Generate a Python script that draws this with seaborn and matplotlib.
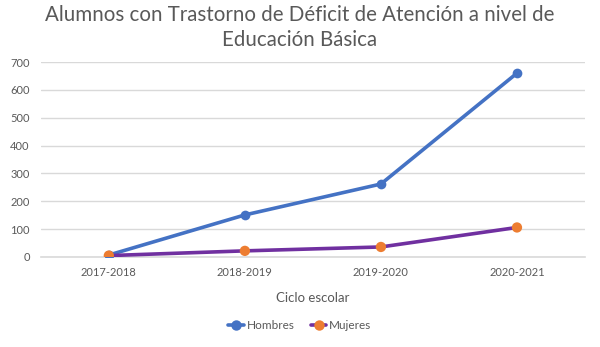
import matplotlib
matplotlib.use("Agg")
import matplotlib.pyplot as plt
from matplotlib.lines import Line2D
import seaborn as sns
import pandas as pd

ciclos = ["2017-2018", "2018-2019", "2019-2020", "2020-2021"]
hombres = [7, 151, 262, 660]
mujeres = [5, 22, 36, 106]
yticks = [0, 100, 200, 300, 400, 500, 600, 700]

sns.set_theme(style="white")
plt.rcParams["font.family"] = ["Lato", "DejaVu Sans"]

blue = "#4472C4"
purple = "#7030A0"
orange = "#ED7D31"
gray_text = "#595959"
grid = "#D9D9D9"

df = pd.DataFrame({"Ciclo": ciclos, "Hombres": hombres, "Mujeres": mujeres})
df["pos"] = range(len(ciclos))

fig = plt.figure(figsize=(6.0, 3.47), dpi=100)
ax = fig.add_axes([0.068, 0.2594, 0.907, 0.5619])

sns.lineplot(data=df, x="pos", y="Hombres", ax=ax, color=blue, linewidth=2.6,
             marker="o", markersize=7, markeredgewidth=0, markerfacecolor=blue, zorder=3)
sns.lineplot(data=df, x="pos", y="Mujeres", ax=ax, color=purple, linewidth=2.6, zorder=3)
sns.scatterplot(data=df, x="pos", y="Mujeres", ax=ax, color=orange, s=55,
                edgecolor="none", zorder=4)

ax.set_xlim(-0.5, len(ciclos) - 0.5)
ax.set_ylim(0, 700)
ax.set_yticks(yticks)
ax.set_xticks(range(len(ciclos)))
ax.set_xticklabels(ciclos)
ax.yaxis.grid(True, color=grid, linewidth=1)
ax.set_axisbelow(True)
for s in ["top", "right", "left"]:
    ax.spines[s].set_visible(False)
ax.spines["bottom"].set_color(grid)
ax.spines["bottom"].set_linewidth(1.2)
ax.tick_params(axis="both", length=0, labelsize=8, labelcolor=gray_text)
ax.tick_params(axis="y", pad=8)
ax.tick_params(axis="x", pad=7)
ax.set_ylabel("")
ax.set_xlabel("Ciclo escolar", fontsize=9.5, color=gray_text, labelpad=10)

fig.suptitle("Alumnos con Trastorno de Déficit de Atención a nivel de\nEducación Básica",
             fontsize=14.8, color=gray_text, y=0.985, linespacing=1.3)

handles = [
    Line2D([0], [0], color=blue, linewidth=2.6, marker="o", markersize=7.5,
           markerfacecolor=blue, markeredgewidth=0),
    Line2D([0], [0], color=purple, linewidth=2.6, marker="o", markersize=7.5,
           markerfacecolor=orange, markeredgewidth=0),
]
fig.legend(handles, ["Hombres", "Mujeres"], loc="center", bbox_to_anchor=(0.5, 0.063),
           ncol=2, frameon=False, fontsize=8.5, labelcolor=gray_text,
           handlelength=1.3, handletextpad=0.25, columnspacing=1.4)

fig.savefig("out.png", dpi=100)
